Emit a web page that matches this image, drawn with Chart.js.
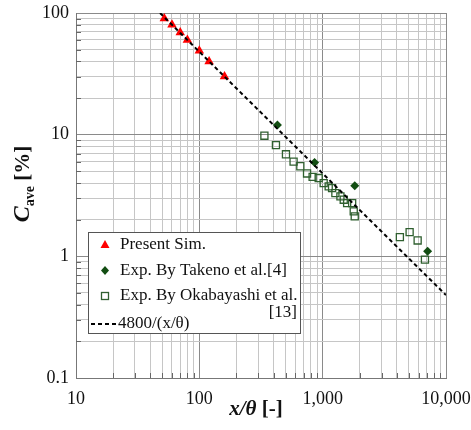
<!DOCTYPE html>
<html><head><meta charset="utf-8">
<script src="https://cdn.jsdelivr.net/npm/chart.js@4"></script>
<style>html,body{margin:0;padding:0;background:#fff}#wrap{width:471px;height:430px}</style>
</head><body><div id="wrap"><canvas id="c" width="471" height="430"></canvas></div>
<script>
// ---- data ----
const simX = [52, 60, 70, 80, 100, 120, 160];
const simY = [90, 80, 69, 60, 49, 40, 30];
const takenoX = [430, 860, 1820, 7100];
const takenoY = [12, 5.9, 3.8, 1.1];
const okaX = [337, 418, 504, 581, 659, 747, 829, 928, 1019, 1119, 1192, 1268, 1393, 1482, 1579, 1734, 1786, 1820, 4227, 5070, 5890, 6750];
const okaY = [9.8, 8.2, 6.9, 6.0, 5.5, 4.8, 4.5, 4.4, 4.0, 3.76, 3.64, 3.31, 3.11, 2.92, 2.74, 2.74, 2.34, 2.13, 1.44, 1.58, 1.35, 0.94];
const fitX = [48, 10000];
const fitY = [100, 0.48];
const xMajor = [10, 100, 1000, 10000];
const xLabels = ['10', '100', '1,000', '10,000'];
const yMajor = [0.1, 1, 10, 100];
const yLabels = ['0.1', '1', '10', '100'];
const legendLabels = ['Present Sim.', 'Exp. By Takeno et al.[4]', 'Exp. By Okabayashi et al.', '4800/(x/θ)'];
const legendExtra = '[13]';

const pts = (xs, ys) => xs.map((x, i) => ({x: x, y: ys[i]}));
function logTicks(majors) {
  const out = [];
  for (let i = 0; i < majors.length; i++) {
    out.push(majors[i]);
    if (i < majors.length - 1) for (let k = 2; k <= 9; k++) out.push(+(majors[i] * k).toPrecision(6));
  }
  return out;
}
const isMajor = (v, majors) => majors.some(m => Math.abs(v - m) / m < 1e-6);

const SERIF = 'Liberation Serif';
Chart.defaults.font.family = SERIF;
const RED = '#ff0000', DGREEN = '#124d12', SQGREEN = '#2f5f2f';
const MAJORC = '#8a8a8a', MINORC = '#c6c6c6';

const overlay = {
  id: 'overlay',
  beforeDatasetsDraw(chart) {
    const ctx = chart.ctx, xs = chart.scales.x, ys = chart.scales.y, a = chart.chartArea;
    ctx.save();
    ctx.strokeStyle = '#666'; ctx.lineWidth = 1;
    ctx.beginPath();
    logTicks(yMajor).forEach(v => { if (!isMajor(v, yMajor)) { const p = Math.round(ys.getPixelForValue(v)) + 0.5; ctx.moveTo(a.left, p); ctx.lineTo(a.left + 5, p); } });
    logTicks(xMajor).forEach(v => { if (!isMajor(v, xMajor)) { const p = Math.round(xs.getPixelForValue(v)) + 0.5; ctx.moveTo(p, a.bottom); ctx.lineTo(p, a.bottom - 5); } });
    ctx.stroke();
    ctx.restore();
  },
  afterDraw(chart) {
    const ctx = chart.ctx;
    ctx.save();
    // legend box
    const bx = 88.5, by = 232.5, bw = 212, bh = 101;
    ctx.fillStyle = '#fff'; ctx.fillRect(bx, by, bw, bh);
    ctx.strokeStyle = '#555'; ctx.lineWidth = 1; ctx.strokeRect(bx, by, bw, bh);
    const rows = [245, 270.5, 296, 324];
    const sx = 105;
    ctx.fillStyle = RED; ctx.beginPath();
    ctx.moveTo(sx, rows[0] - 5); ctx.lineTo(sx + 4.5, rows[0] + 3); ctx.lineTo(sx - 4.5, rows[0] + 3); ctx.closePath(); ctx.fill();
    ctx.fillStyle = DGREEN; ctx.beginPath();
    ctx.moveTo(sx, rows[1] - 4.5); ctx.lineTo(sx + 4, rows[1]); ctx.lineTo(sx, rows[1] + 4.5); ctx.lineTo(sx - 4, rows[1]); ctx.closePath(); ctx.fill();
    ctx.strokeStyle = SQGREEN; ctx.lineWidth = 1.3; ctx.strokeRect(sx - 3.5, rows[2] - 3.5, 7, 7);
    ctx.strokeStyle = '#000'; ctx.lineWidth = 2; ctx.setLineDash([4, 3]);
    ctx.beginPath(); ctx.moveTo(91, rows[3]); ctx.lineTo(118, rows[3]); ctx.stroke(); ctx.setLineDash([]);
    ctx.fillStyle = '#111'; ctx.font = '17px ' + SERIF; ctx.textBaseline = 'middle'; ctx.textAlign = 'left';
    ctx.fillText(legendLabels[0], 120, rows[0]);
    ctx.fillText(legendLabels[1], 120, rows[1]);
    ctx.fillText(legendLabels[2], 120, rows[2]);
    ctx.fillText(legendLabels[3], 118, rows[3]);
    ctx.textAlign = 'right'; ctx.fillText(legendExtra, 297, 313);
    // x title
    ctx.textAlign = 'left'; ctx.textBaseline = 'alphabetic';
    const t1 = 'x/θ', t2 = ' [-]';
    ctx.font = 'bold italic 21px ' + SERIF; const w1 = ctx.measureText(t1).width;
    ctx.font = 'bold 21px ' + SERIF; const w2 = ctx.measureText(t2).width;
    let x0 = 256 - (w1 + w2) / 2;
    ctx.font = 'bold italic 21px ' + SERIF; ctx.fillText(t1, x0, 415);
    ctx.font = 'bold 21px ' + SERIF; ctx.fillText(t2, x0 + w1, 415);
    // y title
    ctx.translate(29, 184); ctx.rotate(-Math.PI / 2);
    ctx.font = 'bold italic 24px ' + SERIF; const c1 = ctx.measureText('C').width;
    ctx.font = 'bold 14px ' + SERIF; const c2 = ctx.measureText('ave').width;
    ctx.font = 'bold 21px ' + SERIF; const c3 = ctx.measureText(' [%]').width;
    let y0 = -(c1 + c2 + c3) / 2;
    ctx.font = 'bold italic 24px ' + SERIF; ctx.fillText('C', y0, 0);
    ctx.font = 'bold 14px ' + SERIF; ctx.fillText('ave', y0 + c1, 5);
    ctx.font = 'bold 21px ' + SERIF; ctx.fillText(' [%]', y0 + c1 + c2, 0);
    ctx.restore();
  }
};

new Chart(document.getElementById('c'), {
  data: {
    datasets: [
      {type: 'scatter', label: legendLabels[0], data: pts(simX, simY), pointStyle: 'triangle', radius: 5.5, backgroundColor: RED, borderColor: RED, borderWidth: 0, order: 3},
      {type: 'scatter', label: legendLabels[1], data: pts(takenoX, takenoY), pointStyle: 'rectRot', radius: 4.5, backgroundColor: DGREEN, borderColor: DGREEN, borderWidth: 0, order: 2},
      {type: 'scatter', label: legendLabels[2], data: pts(okaX, okaY), pointStyle: 'rect', radius: 5, backgroundColor: 'rgba(0,0,0,0)', borderColor: SQGREEN, borderWidth: 1.3, order: 4},
      {type: 'line', label: legendLabels[3], data: pts(fitX, fitY), borderColor: '#000', borderWidth: 2, borderDash: [4, 3], pointRadius: 0, fill: false, order: 1}
    ]
  },
  options: {
    responsive: false, animation: false, devicePixelRatio: 1,
    layout: {padding: {top: 13, right: 25, left: 0, bottom: 0}},
    plugins: {legend: {display: false}, tooltip: {enabled: false}},
    scales: {
      x: {
        type: 'logarithmic', min: 10, max: 10000, position: 'bottom',
        afterBuildTicks: s => { s.ticks = logTicks(xMajor).map(v => ({value: v})); },
        afterFit: s => { s.height = 52; s.paddingLeft = 0; s.paddingRight = 0; },
        ticks: {autoSkip: false, maxRotation: 0, padding: 10, color: '#111', font: {family: SERIF, size: 18, weight: 'normal'},
          callback: v => { const i = xMajor.findIndex(m => Math.abs(v - m) / m < 1e-6); return i >= 0 ? xLabels[i] : ''; }},
        grid: {drawTicks: false, lineWidth: 1, color: c => isMajor(c.tick.value, xMajor) ? MAJORC : MINORC},
        border: {display: true, color: '#777', width: 1}
      },
      y: {
        type: 'logarithmic', min: 0.1, max: 100,
        afterBuildTicks: s => { s.ticks = logTicks(yMajor).map(v => ({value: v})); },
        afterFit: s => { s.width = 76; s.paddingTop = 0; s.paddingBottom = 0; },
        ticks: {autoSkip: false, padding: 7, color: '#111', font: {family: SERIF, size: 18, weight: 'normal'},
          callback: v => { const i = yMajor.findIndex(m => Math.abs(v - m) / m < 1e-6); return i >= 0 ? yLabels[i] : ''; }},
        grid: {drawTicks: false, lineWidth: 1, color: c => isMajor(c.tick.value, yMajor) ? MAJORC : MINORC},
        border: {display: true, color: '#777', width: 1}
      }
    }
  },
  plugins: [overlay]
});
</script></body></html>
